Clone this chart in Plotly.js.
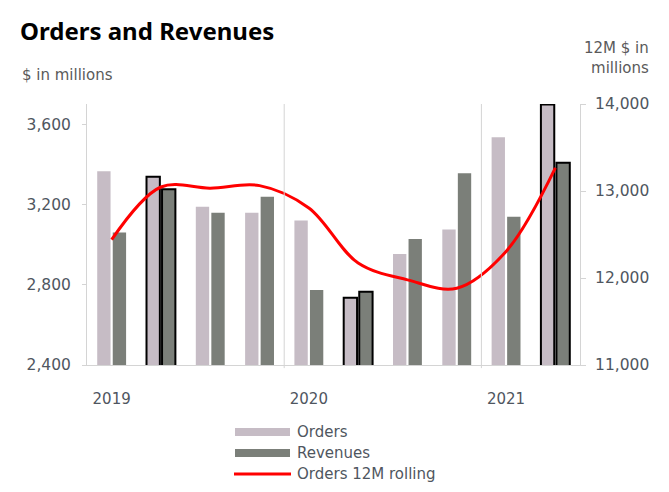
<!DOCTYPE html>
<html><head><meta charset="utf-8">
<script src="https://cdn.plot.ly/plotly-3.0.1.min.js"></script>
<style>html,body{margin:0;padding:0;background:#fff}#chart{width:669px;height:492px}</style>
</head><body><div id="chart"></div>
<script>
// Data
const quarters = ['Q1 2019','Q2 2019','Q3 2019','Q4 2019','Q1 2020','Q2 2020','Q3 2020','Q4 2020','Q1 2021','Q2 2021'];
const orders   = [3365, 3338, 3188, 3158, 3120, 2735, 2953, 3075, 3535, 3697];
const revenues = [3060, 3275, 3158, 3238, 2773, 2765, 3028, 3355, 3138, 3407];
const rolling12M = [12440, 13046, 13033, 13062, 12805, 12172, 11979, 11883, 12305, 13265];
const highlighted = [false, true, false, false, false, true, false, false, false, true];
const yearLabels = ['2019', '2020', '2021'];
const yearFirstIdx = [0, 4, 8];
const yearBoundaries = [3.5, 7.5];

const idx = quarters.map((_, i) => i);
const outlineW = highlighted.map(h => h ? 2 : 0);
const font = 'DejaVu Sans, Verdana, sans-serif';
const txtCol = '#4f5660';

const traces = [
  {type:'bar', name:'Orders', x: idx, y: orders, yaxis:'y',
   marker:{color:'#c6bcc5', line:{color:'#000', width: outlineW}}, hoverinfo:'y'},
  {type:'bar', name:'Revenues', x: idx, y: revenues, yaxis:'y',
   marker:{color:'#7b7f79', line:{color:'#000', width: outlineW}}, hoverinfo:'y'},
  {type:'scatter', mode:'lines', name:'Orders 12M rolling', x: idx, y: rolling12M, yaxis:'y2',
   line:{color:'#ff0000', width:3, shape:'spline', smoothing:1}}
];

const shapes = yearBoundaries.map(b => ({type:'line', xref:'x', yref:'paper', x0:b, x1:b, y0:-0.012, y1:1,
  line:{color:'#d4d4d4', width:1}}));
const legendItems = [
  {name:'Orders', color:'#c6bcc5', kind:'bar', y:432},
  {name:'Revenues', color:'#7b7f79', kind:'bar', y:453},
  {name:'Orders 12M rolling', color:'#ff0000', kind:'line', y:474}
];
const annotations = [];
legendItems.forEach(it => {
  if (it.kind === 'bar') {
    shapes.push({type:'rect', xref:'paper', yref:'paper',
      x0:(235-87)/493, x1:(290-87)/493, y0:(492-it.y-4-127)/261, y1:(492-it.y+4-127)/261,
      fillcolor:it.color, line:{width:0}});
  } else {
    shapes.push({type:'line', xref:'paper', yref:'paper',
      x0:(234-87)/493, x1:(291-87)/493, y0:(492-it.y-127)/261, y1:(492-it.y-127)/261,
      line:{color:it.color, width:3}});
  }
  annotations.push({xref:'paper', yref:'paper', x:(295-87)/493, y:(492-it.y-127)/261,
    xanchor:'left', yanchor:'middle', showarrow:false, text:it.name,
    font:{family:font, size:15, color:txtCol}});
});
annotations.push({xref:'paper', yref:'paper', x:(20-87)/493, y:(492-75-127)/261, xanchor:'left', yanchor:'middle',
  showarrow:false, text:'$ in millions', font:{family:font, size:15, color:'#5a5a5a'}});
annotations.push({xref:'paper', yref:'paper', x:(651-87)/493, y:(492-58-127)/261, xanchor:'right', yanchor:'middle',
  showarrow:false, align:'right', text:'12M $ in<br>millions', font:{family:font, size:15, color:'#5a5a5a'}});

const layout = {
  width:669, height:492,
  margin:{l:87, r:89, t:104, b:127},
  paper_bgcolor:'#fff', plot_bgcolor:'#fff',
  title:{text:'<b>Orders and Revenues</b>', x:20/669, xanchor:'left', y:1-32/492, yanchor:'middle',
    font:{family:'Noto Sans, sans-serif', size:24, color:'#000'}},
  showlegend:false,
  barmode:'group', bargap:0.37, bargroupgap:0.14,
  xaxis:{range:[-0.5, 9.5], tickvals:yearFirstIdx, ticktext:yearLabels, ticks:'', showgrid:false,
    zeroline:false, showline:true, linecolor:'#d4d4d4', linewidth:1, ticklabelstandoff:20,
    tickfont:{family:font, size:15, color:txtCol}, fixedrange:true},
  yaxis:{range:[2400, 3700], tickvals:[2400,2800,3200,3600], tickformat:',', showgrid:false, zeroline:false,
    showline:true, linecolor:'#d4d4d4', linewidth:1, ticks:'outside', ticklen:4, tickcolor:'#d4d4d4',
    ticklabelstandoff:8, tickfont:{family:font, size:15.5, color:txtCol}},
  yaxis2:{range:[11000, 14000], tickvals:[11000,12000,13000,14000], tickformat:',', overlaying:'y', side:'right',
    showgrid:false, zeroline:false, showline:true, linecolor:'#d4d4d4', linewidth:1, ticks:'outside', ticklen:5,
    tickcolor:'#d4d4d4', ticklabelstandoff:6, tickfont:{family:font, size:15.5, color:txtCol}},
  shapes: shapes,
  annotations: annotations
};
Plotly.newPlot('chart', traces, layout, {staticPlot:true});
</script></body></html>
